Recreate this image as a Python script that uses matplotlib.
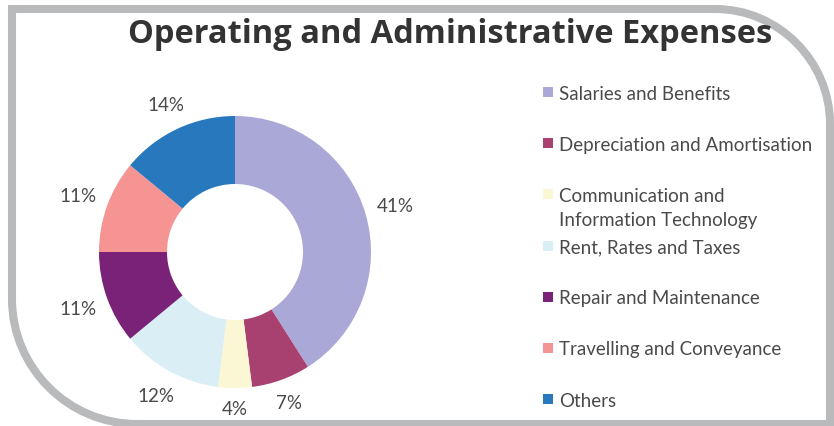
import numpy as np
import matplotlib.pyplot as plt
from matplotlib.path import Path
from matplotlib.patches import PathPatch, Rectangle

# expense breakdown (% of total)
categories = ["Salaries and Benefits", "Depreciation and Amortisation",
              "Communication and\nInformation Technology", "Rent, Rates and Taxes",
              "Repair and Maintenance", "Travelling and Conveyance", "Others"]
shares = [41, 7, 4, 12, 11, 11, 14]
colors = ["#aaa8d6", "#a84170", "#fbf7d4", "#d9eef5", "#7a2278", "#f59492", "#2878be"]

W, H = 834, 427
fig = plt.figure(figsize=(W / 100, H / 100), dpi=100)
fig.patch.set_facecolor("white")
plt.rcParams["font.family"] = ["Lato", "DejaVu Sans"]
txt_col = "#4a4a4a"

# background layer in pixel units for the frame, title and legend
bg = fig.add_axes([0, 0, 1, 1])
bg.set_xlim(0, W)
bg.set_ylim(H, 0)
bg.axis("off")

# rounded grey frame
k = 0.55
r1 = 115   # top-right corner
r2 = 125   # bottom-left corner
verts = [(12, 10), (830 - r1, 10),
         (830 - r1 + k * r1, 10), (830, 10 + r1 - k * r1), (830, 10 + r1),
         (830, 425), (12 + r2, 425),
         (12 + r2 - k * r2, 425), (12, 425 - r2 + k * r2), (12, 425 - r2),
         (12, 10)]
codes = [Path.MOVETO, Path.LINETO,
         Path.CURVE4, Path.CURVE4, Path.CURVE4,
         Path.LINETO, Path.LINETO,
         Path.CURVE4, Path.CURVE4, Path.CURVE4,
         Path.CLOSEPOLY]
bg.add_patch(PathPatch(Path(verts, codes), facecolor="none", edgecolor="#b9babc",
                       linewidth=5.8, joinstyle="miter"))

bg.text(450, 43, "Operating and Administrative Expenses", ha="center", va="baseline",
        fontsize=23.5, fontweight="bold", color="#333333",
        family=["Open Sans", "DejaVu Sans"])

# legend, one slot per category; wrapped labels continue below the slot
for i, (lab, col) in enumerate(zip(categories, colors)):
    yc = 93 + i * 51.2
    bg.add_patch(Rectangle((543, yc - 5), 10, 10, facecolor=col, edgecolor="none"))
    for j, line in enumerate(lab.split("\n")):
        bg.text(559, yc + 6.5 + j * 24.5, line, ha="left", va="baseline",
                fontsize=13.5, color=txt_col)

# donut
ax = fig.add_axes([65 / W, (H - 253 - 170) / H, 340 / W, 340 / H])
wedges, _, pcts = ax.pie(shares, colors=colors, startangle=90, counterclock=False,
                         autopct="%.0f%%", pctdistance=1.25,
                         wedgeprops=dict(width=0.5, linewidth=0))

# labels sit just outside the ring, pushed out by their own half size
for w, t in zip(wedges, pcts):
    a = np.deg2rad((w.theta1 + w.theta2) / 2)
    hw = 0.042 * len(t.get_text())
    r = 1.09 + abs(np.cos(a)) * hw + abs(np.sin(a)) * 0.06
    t.set_position((r * np.cos(a), r * np.sin(a)))
    t.set_fontsize(13.5)
    t.set_color(txt_col)
ax.set_xlim(-1.25, 1.25)
ax.set_ylim(-1.25, 1.25)
ax.set_aspect("equal")

plt.savefig("out.png", dpi=100)
